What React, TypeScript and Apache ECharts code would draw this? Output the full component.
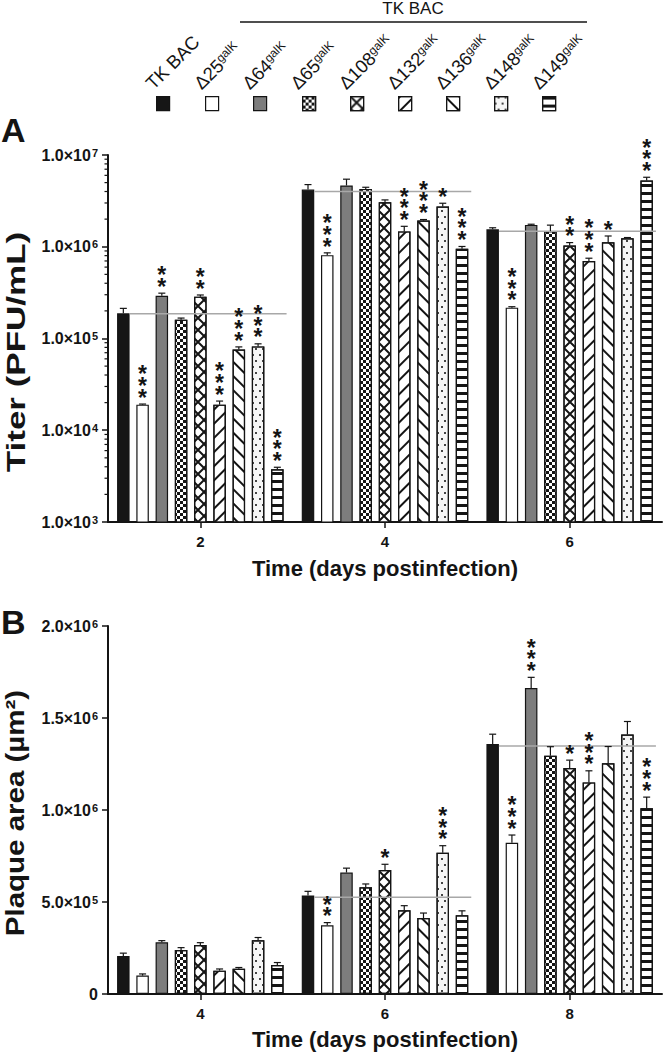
import React, { useEffect, useRef } from 'react';
import * as echarts from 'echarts';

const FONT = '"Liberation Sans", Arial, Helvetica, sans-serif';
const INK = '#141414';

// ---------- data ----------
const strainLabels = ['TK BAC', 'Δ25', 'Δ64', 'Δ65', 'Δ108', 'Δ132', 'Δ136', 'Δ148', 'Δ149'];
const daysA = ['2', '4', '6'];
const daysB = ['4', '6', '8'];

// Panel A: titer (PFU/mL), one array per day, order = strainLabels
const titerDay2 = [1.88e5, 1.9e4, 2.92e5, 1.6e5, 2.86e5, 1.9e4, 7.6e4, 8.2e4, 3.75e3];
const titerDay4 = [4.2e6, 8.1e5, 4.65e6, 4.27e6, 3.06e6, 1.47e6, 1.93e6, 2.74e6, 9.5e5];
const titerDay6 = [1.55e6, 2.17e5, 1.73e6, 1.48e6, 1.03e6, 7.0e5, 1.12e6, 1.24e6, 5.26e6];
const titerErrDay2 = [2.5e4, 3e2, 2e4, 7e3, 1.2e4, 1.8e3, 5e3, 5.5e3, 2e2];
const titerErrDay4 = [5.6e5, 4.8e4, 8e5, 1.8e5, 1.8e5, 2e5, 5e4, 2.4e5, 5.7e4];
const titerErrDay6 = [6e4, 5e3, 3e4, 2.4e5, 8e4, 5e4, 1.9e5, 2e4, 4.6e5];
const titerStarsDay2 = ['', '***', '**', '', '**', '***', '***', '***', '***'];
const titerStarsDay4 = ['', '***', '', '', '', '***', '***', '*', '***'];
const titerStarsDay6 = ['', '***', '', '', '**', '***', '*', '', '***'];
const titerRef = [1.86e5, 4.0e6, 1.48e6];
const titerTicks = [1e3, 1e4, 1e5, 1e6, 1e7];
const titerMinorTicks = [
  2e3, 3e3, 4e3, 5e3, 6e3, 7e3, 8e3, 9e3,
  2e4, 3e4, 4e4, 5e4, 6e4, 7e4, 8e4, 9e4,
  2e5, 3e5, 4e5, 5e5, 6e5, 7e5, 8e5, 9e5,
  2e6, 3e6, 4e6, 5e6, 6e6, 7e6, 8e6, 9e6,
];

// Panel B: plaque area (µm²)
const areaDay4 = [2.07e5, 1.0e5, 2.81e5, 2.39e5, 2.66e5, 1.27e5, 1.37e5, 2.92e5, 1.58e5];
const areaDay6 = [5.36e5, 3.73e5, 6.6e5, 5.8e5, 6.74e5, 4.55e5, 4.13e5, 7.68e5, 4.28e5];
const areaDay8 = [1.359e6, 8.22e5, 1.663e6, 1.295e6, 1.228e6, 1.15e6, 1.254e6, 1.41e6, 1.01e6];
const areaErrDay4 = [1.5e4, 0.9e4, 0.9e4, 1.3e4, 1.3e4, 0.9e4, 0.7e4, 1.5e4, 1.3e4];
const areaErrDay6 = [2.2e4, 1.5e4, 2.4e4, 1.8e4, 3.1e4, 2.5e4, 2.7e4, 3.8e4, 2.4e4];
const areaErrDay8 = [5.3e4, 4.2e4, 5.8e4, 4.9e4, 4.3e4, 6.3e4, 9.1e4, 7.1e4, 6e4];
const areaStarsDay4 = ['', '', '', '', '', '', '', '', ''];
const areaStarsDay6 = ['', '**', '', '', '*', '', '', '***', ''];
const areaStarsDay8 = ['', '***', '***', '', '*', '***', '', '', '***'];
const areaRef = [null, 5.26e5, 1.348e6];
const areaTicks = [0, 5e5, 1e6, 1.5e6, 2e6];

// ---------- layout / style ----------
const GRID_LEFT = 108;
const BAR_W = 12.5;
const PITCH = 19.25; // bar width * (1 + 54%)
const LEG_X = [156, 205, 253, 302, 350, 398, 446, 494, 542];
const LEG_PITCH = 48.25;

const barStyles: any[] = [
  { color: '#161616' },
  { color: '#ffffff' },
  { color: '#7d7d7d' },
  {
    color: '#ffffff',
    decal: { symbol: 'rect', symbolSize: 1, dashArrayX: [[3, 3], [0, 3, 3, 0]], dashArrayY: [3, 0], color: INK },
  },
  {
    color: '#ffffff',
    decal: {
      symbol: 'path://M0,0L1.4,0L12,10.6L12,12L10.6,12L0,1.4Z M12,0L12,1.4L1.4,12L0,12L0,10.6L10.6,0Z',
      symbolSize: 1, dashArrayX: [12, 0], dashArrayY: [12, 0], color: INK,
    },
  },
  {
    color: '#ffffff',
    decal: { symbol: 'rect', symbolSize: 1, dashArrayX: [1, 0], dashArrayY: [2, 7.2], rotation: -Math.PI / 4, color: INK },
  },
  {
    color: '#ffffff',
    decal: { symbol: 'rect', symbolSize: 1, dashArrayX: [1, 0], dashArrayY: [2, 7.2], rotation: Math.PI / 4, color: INK },
  },
  {
    color: '#f6f6f6',
    decal: { symbol: 'rect', symbolSize: 1, dashArrayX: [[1.1, 4.9], [0, 3, 1.1, 1.9]], dashArrayY: [1.1, 3.4], color: '#444' },
  },
  {
    color: '#ffffff',
    decal: { symbol: 'rect', symbolSize: 1, dashArrayX: [1, 0], dashArrayY: [2.7, 4.6], color: INK },
  },
];

function sciLabel(v: number) {
  if (v === 0) return '{m|0}';
  const e = Math.floor(Math.log10(v) + 1e-9);
  const m = v / Math.pow(10, e);
  return `{m|${m.toFixed(1)}×10}{e|${e}}`;
}

const labelRich = {
  m: { fontSize: 16, fontWeight: 'bold', fontFamily: FONT, color: INK },
  e: { fontSize: 11, fontWeight: 'bold', fontFamily: FONT, color: INK, verticalAlign: 'top', padding: [0, 0, 0, 1] },
};

function barSeries(axis: number, byDay: number[][]) {
  return strainLabels.map((name, k) => ({
    type: 'bar',
    name,
    xAxisIndex: axis,
    yAxisIndex: axis,
    data: byDay.map((d) => d[k]),
    barWidth: BAR_W,
    barGap: '54%',
    clip: true,
    itemStyle: { ...barStyles[k], borderColor: INK, borderWidth: 1.2 },
    emphasis: { disabled: true },
    z: 2,
  }));
}

function errorSeries(axis: number, byDay: number[][], errs: number[][], stars: string[][]) {
  const rows: number[][] = [];
  const labels: string[] = [];
  byDay.forEach((day, c) =>
    day.forEach((v, k) => {
      rows.push([c, v, errs[c][k], k]);
      labels.push(stars[c][k]);
    })
  );
  return {
    type: 'custom',
    xAxisIndex: axis,
    yAxisIndex: axis,
    data: rows,
    encode: { x: 0, y: 1 },
    silent: true,
    z: 5,
    renderItem: (params: any, api: any) => {
      const c = api.value(0);
      const v = api.value(1);
      const e = api.value(2);
      const k = api.value(3);
      const p0 = api.coord([c, v]);
      const p1 = api.coord([c, v + e]);
      const x = p0[0] + (k - 4) * PITCH;
      const children: any[] = [
        { type: 'line', shape: { x1: x, y1: p0[1], x2: x, y2: p1[1] }, style: { stroke: INK, lineWidth: 1.2 } },
        { type: 'line', shape: { x1: x - 3.5, y1: p1[1], x2: x + 3.5, y2: p1[1] }, style: { stroke: INK, lineWidth: 1.2 } },
      ];
      const s = labels[params.dataIndex];
      if (s) {
        children.push({
          type: 'text',
          x,
          y: p1[1] - 0.5,
          style: {
            text: s.split('').join('\n'),
            align: 'center',
            verticalAlign: 'bottom',
            fontSize: 23,
            fontWeight: 'bold',
            lineHeight: 11.7,
            fontFamily: FONT,
            fill: INK,
          },
        });
      }
      return { type: 'group', children };
    },
  };
}

function refSeries(axis: number, refs: (number | null)[]) {
  const rows: number[][] = [];
  refs.forEach((v, c) => {
    if (v != null) rows.push([c, v]);
  });
  return {
    type: 'custom',
    xAxisIndex: axis,
    yAxisIndex: axis,
    data: rows,
    encode: { x: 0, y: 1 },
    silent: true,
    z: 4,
    renderItem: (params: any, api: any) => {
      const p = api.coord([api.value(0), api.value(1)]);
      return {
        type: 'line',
        shape: { x1: p[0] - 4 * PITCH + BAR_W / 2, y1: p[1], x2: p[0] + 4 * PITCH + BAR_W / 2 + 3, y2: p[1] },
        style: { stroke: '#a8a8a8', lineWidth: 1.5 },
      };
    },
  };
}

function minorTickSeries() {
  return {
    type: 'custom',
    xAxisIndex: 0,
    yAxisIndex: 0,
    data: titerMinorTicks.map((v) => [0, v]),
    encode: { x: 0, y: 1 },
    silent: true,
    z: 6,
    renderItem: (params: any, api: any) => {
      const p = api.coord([0, api.value(1)]);
      return {
        type: 'line',
        shape: { x1: GRID_LEFT - 3.5, y1: p[1], x2: GRID_LEFT, y2: p[1] },
        style: { stroke: INK, lineWidth: 1.2 },
      };
    },
  };
}

function xAxis(grid: number, data: string[]) {
  return {
    type: 'category',
    gridIndex: grid,
    data,
    axisLine: { show: true, lineStyle: { color: INK, width: 2 } },
    axisTick: { show: true, alignWithLabel: true, length: 6, lineStyle: { color: INK, width: 1.5 } },
    axisLabel: { fontSize: 15, fontWeight: 'bold', fontFamily: FONT, color: INK, margin: 12 },
    splitLine: { show: false },
  };
}

function buildOption() {
  const titerByDay = [titerDay2, titerDay4, titerDay6];
  const titerErrs = [titerErrDay2, titerErrDay4, titerErrDay6];
  const titerStars = [titerStarsDay2, titerStarsDay4, titerStarsDay6];
  const areaByDay = [areaDay4, areaDay6, areaDay8];
  const areaErrs = [areaErrDay4, areaErrDay6, areaErrDay8];
  const areaStars = [areaStarsDay4, areaStarsDay6, areaStarsDay8];

  // caption strip: a hidden third grid whose top category axis carries the 45° legend captions
  const capAnchor0 = LEG_X[0] - 7;

  return {
    animation: false,
    backgroundColor: '#ffffff',
    textStyle: { fontFamily: FONT },
    grid: [
      { left: GRID_LEFT, top: 155, width: 554, height: 367 },
      { left: GRID_LEFT, top: 626, width: 554, height: 368 },
      { left: capAnchor0 - LEG_PITCH / 2, top: 86, width: LEG_PITCH * 9, height: 2 },
    ],
    legend: strainLabels.map((s, i) => ({
      data: [s],
      left: LEG_X[i],
      top: 96,
      padding: 0,
      itemGap: 0,
      itemWidth: 13,
      itemHeight: 14,
      icon: 'rect',
      selectedMode: false,
      formatter: () => '',
      textStyle: { fontSize: 1 },
      itemStyle: { borderColor: INK, borderWidth: 1.2 },
    })),
    xAxis: [
      xAxis(0, daysA),
      xAxis(1, daysB),
      {
        type: 'category',
        gridIndex: 2,
        position: 'top',
        data: strainLabels,
        axisLine: { show: false },
        axisTick: { show: false },
        splitLine: { show: false },
        axisPointer: { show: false },
        axisLabel: {
          interval: 0,
          rotate: 45,
          margin: 0,
          hideOverlap: false,
          formatter: (s: string, i: number) => (i === 0 ? `{a|${s}}` : `{a|${s}}{b|galK}`),
          rich: {
            a: { fontSize: 18.5, fontFamily: FONT, color: INK },
            b: { fontSize: 12, fontFamily: FONT, color: INK, verticalAlign: 'top' },
          },
        },
      },
    ],
    yAxis: [
      {
        type: 'log',
        logBase: 10,
        gridIndex: 0,
        min: titerTicks[0],
        max: titerTicks[titerTicks.length - 1],
        axisLine: { show: true, lineStyle: { color: INK, width: 2 } },
        axisTick: { show: true, length: 6, lineStyle: { color: INK, width: 1.5 } },
        axisLabel: { formatter: sciLabel, rich: labelRich, margin: 10 },
        splitLine: { show: false },
      },
      {
        type: 'value',
        gridIndex: 1,
        min: areaTicks[0],
        max: areaTicks[areaTicks.length - 1],
        interval: areaTicks[1] - areaTicks[0],
        axisLine: { show: true, lineStyle: { color: INK, width: 2 } },
        axisTick: { show: true, length: 6, lineStyle: { color: INK, width: 1.5 } },
        axisLabel: { formatter: sciLabel, rich: labelRich, margin: 10 },
        splitLine: { show: false },
      },
      { type: 'value', gridIndex: 2, show: false },
    ],
    series: [
      ...barSeries(0, titerByDay),
      refSeries(0, titerRef),
      errorSeries(0, titerByDay, titerErrs, titerStars),
      minorTickSeries(),
      ...barSeries(1, areaByDay),
      refSeries(1, areaRef),
      errorSeries(1, areaByDay, areaErrs, areaStars),
    ],
    graphic: [
      { type: 'text', x: 1, y: 130, style: { text: 'A', fontSize: 34, fontWeight: 'bold', fontFamily: FONT, fill: INK, verticalAlign: 'middle' } },
      { type: 'text', x: 1, y: 622, style: { text: 'B', fontSize: 34, fontWeight: 'bold', fontFamily: FONT, fill: INK, verticalAlign: 'middle' } },
      { type: 'text', x: 413, y: 8, style: { text: 'TK BAC', fontSize: 17, fontFamily: FONT, fill: INK, align: 'center', verticalAlign: 'middle' } },
      { type: 'line', shape: { x1: 240, y1: 22, x2: 587, y2: 22 }, style: { stroke: INK, lineWidth: 1.5 } },
      {
        type: 'text', x: 16, y: 352, rotation: Math.PI / 2, scaleX: 1.4,
        style: { text: 'Titer (PFU/mL)', fontSize: 25, fontWeight: 'bold', fontFamily: FONT, fill: INK, align: 'center', verticalAlign: 'middle' },
      },
      {
        type: 'text', x: 15, y: 813, rotation: Math.PI / 2, scaleX: 1.18,
        style: { text: 'Plaque area (µm²)', fontSize: 25, fontWeight: 'bold', fontFamily: FONT, fill: INK, align: 'center', verticalAlign: 'middle' },
      },
      {
        type: 'text', x: 385, y: 568,
        style: { text: 'Time (days postinfection)', fontSize: 22, fontWeight: 'bold', fontFamily: FONT, fill: INK, align: 'center', verticalAlign: 'middle' },
      },
      {
        type: 'text', x: 385, y: 1039,
        style: { text: 'Time (days postinfection)', fontSize: 22, fontWeight: 'bold', fontFamily: FONT, fill: INK, align: 'center', verticalAlign: 'middle' },
      },
    ],
  };
}

export default function App() {
  const ref = useRef<HTMLDivElement>(null);
  useEffect(() => {
    if (!ref.current) return;
    const chart = echarts.init(ref.current, null, { renderer: 'svg' });
    chart.setOption(buildOption() as any);
    return () => chart.dispose();
  }, []);
  return (
    <div
      ref={ref}
      style={{ position: 'absolute', left: 0, top: 0, width: 666, height: 1052, background: '#ffffff' }}
    />
  );
}
